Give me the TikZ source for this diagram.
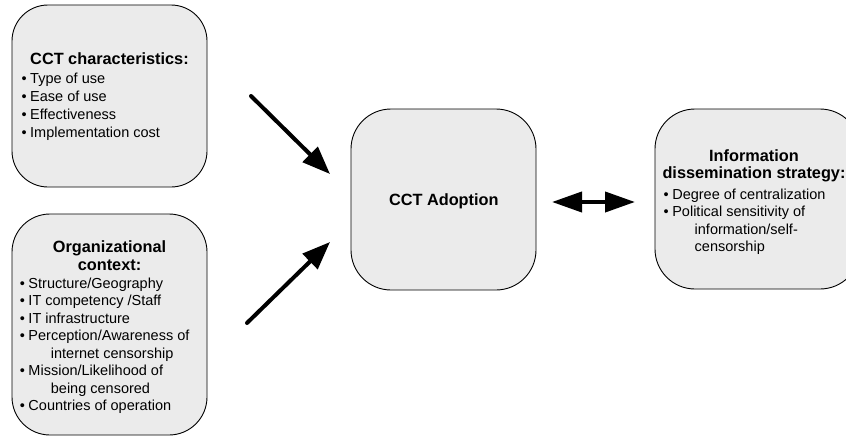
\documentclass[tikz,border=0pt]{standalone}
\usepackage{fontspec}
\setmainfont{Liberation Sans}
\usetikzlibrary{arrows.meta}
\definecolor{boxfill}{HTML}{EBEBEB}
\tikzset{
  roundbox/.style={draw=black, line width=0.9pt, fill=boxfill, rounded corners=#1, inner sep=0pt},
  ttl/.style={font=\fontsize{16.3}{18}\selectfont\bfseries, anchor=base, inner sep=0pt},
  itm/.style={font=\fontsize{14.5}{17.5}\selectfont, anchor=base west, inner sep=0pt},
  bigarrow/.style={line width=4pt, line cap=round, -{Triangle[length=28pt,width=21pt]}},
  dblarrow/.style={line width=4pt, {Triangle[length=30pt,width=20pt]}-{Triangle[length=30pt,width=20pt]}},
}
\newcommand{\bul}{\makebox[8.6pt][l]{•}}
\begin{document}
\begin{tikzpicture}[x=1pt,y=-1pt]
\useasboundingbox (0,0) rectangle (846,436);
\clip (0,0) rectangle (846,436);
\fill[white] (0,0) rectangle (846,436);

% boxes
\node[roundbox=36pt, minimum width=195pt, minimum height=182pt] (chars) at (109.5,96) {};
\node[roundbox=38pt, minimum width=195pt, minimum height=221pt] (org) at (109.5,324.5) {};
\node[roundbox=40pt, minimum width=185pt, minimum height=181pt] (cct) at (443.5,199.5) {};
\node[roundbox=40pt, minimum width=205pt, minimum height=180pt] (info) at (757.5,199) {};

% box 1 text
\node[ttl] (t1) at (109.5,65) {CCT characteristics:};
\node[itm] (c1) at (21.4,83) {\bul Type of use};
\node[itm] (c2) at (21.4,101) {\bul Ease of use};
\node[itm] (c3) at (21.4,119) {\bul Effectiveness};
\node[itm] (c4) at (21.4,137) {\bul Implementation cost};

% box 2 text
\node[ttl] (t2a) at (109.5,252) {Organizational};
\node[ttl] (t2b) at (109.5,270.5) {context:};
\node[itm] (o1) at (19.7,288.3) {\bul Structure/Geography};
\node[itm] (o2) at (19.7,305.8) {\bul IT competency /Staff};
\node[itm] (o3) at (19.7,323.3) {\bul IT infrastructure};
\node[itm] (o4) at (19.7,340.8) {\bul Perception/Awareness of};
\node[itm] (o4b) at (50.7,358.3) {internet censorship};
\node[itm] (o5) at (19.7,375.8) {\bul Mission/Likelihood of};
\node[itm] (o5b) at (50.7,393.3) {being censored};
\node[itm] (o6) at (19.7,410.8) {\bul Countries of operation};

% centre box text
\node[ttl] (t3) at (443.8,205) {CCT Adoption};

% box 4 text
\node[ttl] (t4a) at (754,161) {Information};
\node[ttl] (t4b) at (754,178) {dissemination strategy:};
\node[itm] (i1) at (663.5,199) {\bul Degree of centralization};
\node[itm] (i2) at (663.5,216.5) {\bul Political sensitivity of};
\node[itm] (i2b) at (694.5,234) {information/self-};
\node[itm] (i2c) at (694.5,251) {censorship};

% arrows
\coordinate (a1s) at (251,96);
\coordinate (a1e) at (330,174);
\coordinate (a2s) at (247,323);
\coordinate (a2e) at (330,242);
\coordinate (a3s) at (552,202);
\coordinate (a3e) at (635,202);
\draw[bigarrow] (a1s) -- (a1e);
\draw[bigarrow] (a2s) -- (a2e);
\draw[dblarrow] (a3s) -- (a3e);
\end{tikzpicture}
\end{document}
